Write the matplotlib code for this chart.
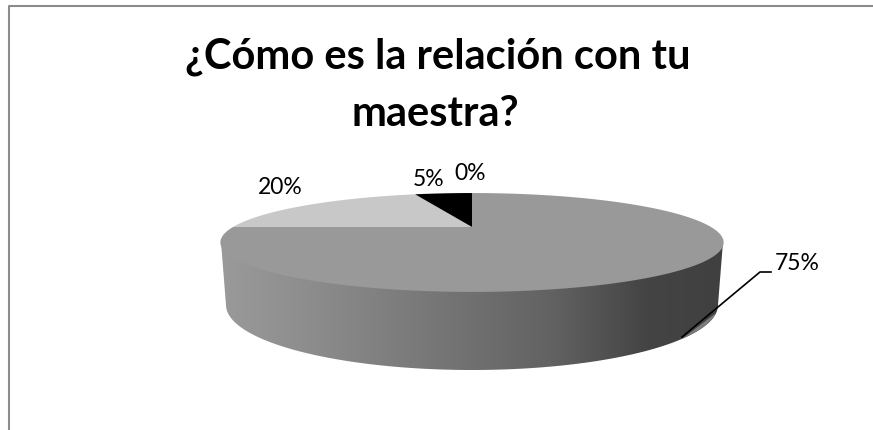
"""
Purpose: 3D looking pie chart of the answers to the teacher relationship question

Usage:
    python plot.py
"""

import numpy as np
import matplotlib.pyplot as plt
from matplotlib.colors import LinearSegmentedColormap
from matplotlib.patches import Polygon

# chart data
title_lines = ['¿Cómo es la relación con tu', 'maestra?']
values = [75, 20, 5, 0]
slice_colors = ['#999999', '#c8c8c8', '#000000', '#555555']
label_xy = [(797, 263), (280, 187), (429, 180), (470, 173)]
title_xy = [(437.5, 69), (435, 126)]

# pie geometry, in pixels of the figure
apex_x, apex_y = 472, 227
radius_x = 239
persp = 0.313
squash = 44.6
bottom_y, bottom_rx, bottom_ry = 305, 246, 65
top_y, top_rx = 242, 251


def project(angle):

    """
    Map an angle on the pie circle to the tilted top face

    :param angle: angle in radians, array
    :return: x and y pixel arrays
    """

    div = 1 + persp * np.sin(angle)
    return apex_x + radius_x * np.cos(angle) / div, apex_y - squash * np.sin(angle) / div


def bottom_arc(start, stop):

    """
    Points on the lower edge of the rim

    :param start: angle in radians
    :param stop: angle in radians
    :return: list of (x, y) pixel pairs
    """

    t = np.linspace(start, stop, 200)
    return list(zip(apex_x + bottom_rx * np.cos(t), bottom_y - bottom_ry * np.sin(t)))


def draw_side(ax):

    """
    Draw the rim of the pie with its left to right shading

    :param ax: axes to draw on
    :return: None
    """

    pts = [(apex_x - top_rx, top_y)] + bottom_arc(np.pi, 2 * np.pi) + [(apex_x + top_rx, top_y)]
    rim = Polygon(pts, closed=True, facecolor='none', edgecolor='none')
    ax.add_patch(rim)

    shade = LinearSegmentedColormap.from_list('rim', [(0, '#9a9a9a'), (0.16, '#8e8e8e'),
                                                      (0.5, '#707070'), (0.66, '#626262'),
                                                      (0.85, '#444444'), (1, '#404040')])
    img = ax.imshow(np.linspace(0, 1, 256).reshape(1, -1), cmap=shade, aspect='auto',
                    extent=(apex_x - top_rx, apex_x + top_rx, 375, 235), zorder=1)
    img.set_clip_path(rim)

    # lighter sliver under the leader line
    ax.add_patch(Polygon(bottom_arc(np.radians(-31.4), np.radians(-7)), closed=True,
                         facecolor='#7c7c7c', edgecolor='none', zorder=1.5))


def draw_top(ax):

    """
    Draw one wedge per value, clockwise from twelve o'clock

    :param ax: axes to draw on
    :return: None
    """

    start = np.pi / 2
    for value, color in zip(values, slice_colors):
        stop = start - 2 * np.pi * value / sum(values)
        if value > 0:
            t = np.linspace(start, stop, 300)
            x, y = project(t)
            pts = [(apex_x, apex_y)] + list(zip(x, y))
            ax.add_patch(Polygon(pts, closed=True, facecolor=color, edgecolor='none', zorder=2))
        start = stop


def main():

    fig = plt.figure(figsize=(8.73, 4.30), dpi=100)
    ax = fig.add_axes([0, 0, 1, 1])
    ax.axis('off')

    draw_side(ax)
    draw_top(ax)

    # keep pixel coordinates, y going down
    ax.set_xlim(0, 873)
    ax.set_ylim(430, 0)

    # frame of the chart area, only top and left are in the crop
    ax.plot([8.5, 8.5, 873], [430, 5.5, 5.5], color='#8c8c8c', lw=1.5, zorder=1)

    # leader line of the biggest slice
    ax.plot([682, 760, 771], [337, 272, 272], color='black', lw=1.2, zorder=3)

    # labels
    for value, (x, y) in zip(values, label_xy):
        ax.text(x, y, '%d%%' % value, fontsize=16.5, family='Lato', color='black',
                ha='center', va='center', zorder=4)

    # title
    for line, (x, y) in zip(title_lines, title_xy):
        ax.text(x, y, line, fontsize=30, family='Lato', fontweight='bold', color='black',
                ha='center', va='baseline', zorder=4)

    fig.savefig('out.png', dpi=100)


if __name__ == '__main__':
    main()
